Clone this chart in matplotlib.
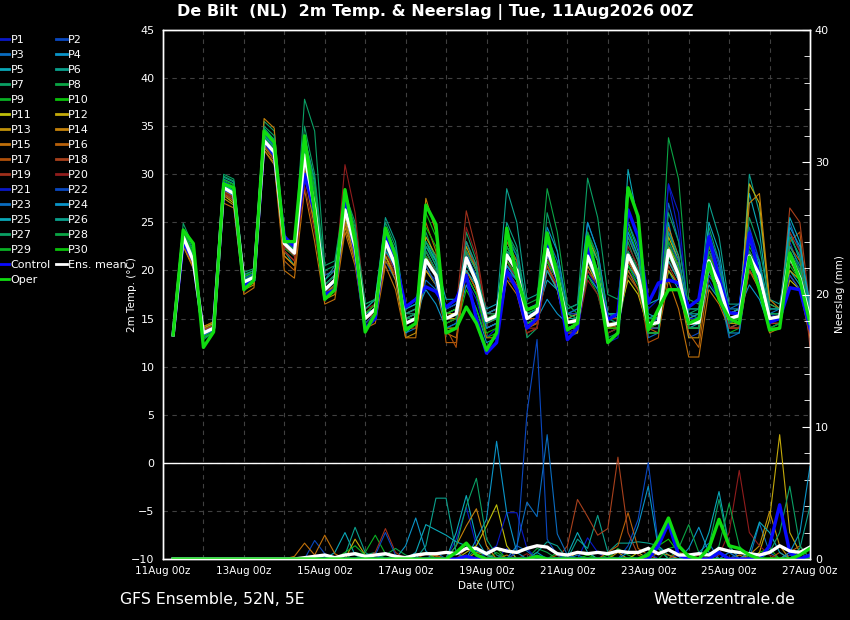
import matplotlib
matplotlib.use("Agg")
import matplotlib.pyplot as plt
from matplotlib.lines import Line2D
import numpy as np

# forecast steps: every 6 h from 11Aug 06z to 27Aug 00z
hours = np.arange(6, 385, 6)
tick_hours = np.arange(0, 385, 24)
tick_labels = ["11Aug 00z", "", "13Aug 00z", "", "15Aug 00z", "", "17Aug 00z", "",
               "19Aug 00z", "", "21Aug 00z", "", "23Aug 00z", "", "25Aug 00z", "",
               "27Aug 00z"]

member_names = ["P%d" % i for i in range(1, 31)]
member_colors = ["#0a18c8", "#0a48c0", "#0a6cc0", "#0a94c8", "#0aa8b8", "#0aa08c",
                 "#0aa064", "#0aa444", "#0ab024", "#0ac00a", "#c0c00a", "#c4aa0a",
                 "#c0920a", "#c4820a", "#c0700a", "#b8600a", "#b0500a", "#a8401c",
                 "#a0301c", "#901c1c"]

# 2m temperature per member (rows of 16 steps = 4 days)
member_temp = [
    [13.3, 23, 20.5, 13.8, 14.2, 28, 27.5, 18.5, 19, 33, 31.5, 23.5, 22, 31, 27, 17.5,
     18.5, 25.5, 22, 15, 16, 22, 20, 15.5, 16, 20, 19, 16, 16.5, 19, 17, 13,
     14, 19, 18.5, 14, 15, 24, 20, 15, 15.5, 20, 18, 14, 14.5, 24, 21, 16,
     17, 29, 24, 15, 15, 19, 17, 14, 14.5, 24, 21, 15.5, 15, 19.5, 18, 13.5],
    [13.3, 23.8, 21.5, 13.2, 13.8, 29, 28.5, 19, 19.5, 34, 33, 22, 21, 33, 28, 18.5,
     19.5, 27, 23, 14.5, 15.5, 24, 21, 14, 14.5, 22, 20, 14.5, 15, 22, 19, 15.5,
     16, 23, 21, 16, 16.5, 21, 18, 13, 13.5, 23, 20, 13.5, 14, 20, 18.5, 15,
     15, 23, 20, 13, 13.5, 24, 20.5, 15.5, 16, 22, 19, 14.5, 15, 23, 20, 16],
    [13.3, 23.2, 21, 13.6, 14, 28.3, 27.8, 18.8, 19.2, 33.8, 32.5, 23, 22.5, 32.5, 25, 17,
     18, 25, 21.5, 14, 15, 21, 19, 13.5, 14, 19, 18, 15.5, 16, 23, 20, 15,
     15.5, 20, 19, 15.5, 16, 23, 20, 14, 14.5, 25, 22, 15.5, 15.5, 22, 19, 13,
     13.5, 27, 23, 16, 16, 20, 18, 13, 13.5, 20.5, 18.5, 15.5, 16, 25, 22, 16.5],
    [13.3, 23.6, 21.2, 13.4, 14.1, 28.8, 28.2, 18.6, 19.4, 33.2, 32, 22.5, 21.5, 31.5, 26, 18.5,
     19.5, 26.5, 23.5, 15.5, 16.5, 23.5, 21.5, 15, 15.5, 18, 16.5, 14, 14.5, 18.5, 16, 12.5,
     13, 20.5, 19.5, 14.5, 15, 17, 15.5, 14.5, 15, 21, 18.5, 15, 15.5, 25, 22, 15,
     15.5, 25, 20, 14, 14, 23, 20, 16, 16, 18.5, 17, 14, 14.5, 24, 21, 15],
    [13.3, 23.4, 20.8, 13.7, 14.3, 28.5, 27.6, 18.9, 19.6, 33.6, 32.2, 23.2, 22.3, 32.8, 27.5, 18,
     19, 27.5, 23, 15, 16, 22.5, 20, 13.5, 14.5, 20.5, 18.5, 15.5, 16, 22, 20, 16,
     16.5, 22, 21, 15, 15.5, 19, 18, 14.5, 14.5, 19.5, 18, 14.5, 14, 30.5, 25, 15.5,
     15, 20, 18, 14, 14.5, 18.5, 17, 15.5, 16, 28, 24, 16, 16, 20, 18.5, 16],
    [13.3, 24, 22, 13, 13.5, 29.5, 29, 19.5, 20, 34.5, 33.5, 22, 20.5, 34, 29, 19,
     20, 27, 24, 16, 17, 24.5, 22, 15.5, 16, 22.5, 21, 16, 16.5, 20.5, 19, 15.5,
     16, 28.5, 25, 17, 17.5, 23, 20, 15, 15, 22, 20, 15.5, 15, 21, 19, 14,
     14, 24, 21, 15.5, 15, 22, 19, 14, 14.5, 30, 26, 17, 16.5, 22, 20, 15],
    [13.3, 24.9, 22.5, 12.8, 13.6, 30, 29.5, 19.8, 20.2, 35.5, 34.5, 23.8, 22, 37.8, 34.5, 20.5,
     21, 28, 25, 16.5, 17, 25, 22.5, 15.5, 15.5, 24, 21, 13.5, 14, 24, 21, 14,
     14.5, 22, 20, 13, 14, 26, 22, 15.5, 16, 24, 21, 13, 13.5, 23, 20, 14.5,
     15, 21, 19, 15.5, 16, 24.5, 21, 15, 15.5, 21, 19, 14, 14.5, 23.5, 21.5, 15],
    [13.3, 23.3, 21, 13.5, 14, 28.7, 28.3, 18.7, 19.2, 33.3, 32, 22.6, 22, 32, 26.5, 18,
     19, 26, 22.5, 15.5, 16.5, 23, 21, 14, 14.5, 21, 19.5, 14.5, 15, 21.5, 19, 15,
     15.5, 24, 21.5, 16.5, 17, 28.5, 24, 16.5, 15.5, 21, 19.5, 14.5, 14.5, 20.5, 19, 14,
     14.5, 22.5, 20, 14, 14, 21, 18.5, 14.5, 15, 23, 20.5, 15.5, 15.5, 21, 19, 14.5],
    [13.3, 23.1, 20.6, 13.9, 14.4, 28.2, 27.4, 18.4, 18.9, 33, 31.8, 22.3, 21.5, 31, 25.5, 17.5,
     18.5, 25.5, 22, 14.5, 15.5, 21.5, 19.5, 14, 14.5, 23, 20.5, 15, 15, 20, 18, 14,
     14.5, 21, 19.5, 15.5, 16, 21.5, 19, 14, 14, 19.5, 17.5, 13.5, 14, 19.5, 18, 15,
     15, 22, 20, 15, 15, 20, 18, 13.5, 14, 22, 20, 15, 15, 20.5, 19, 14.5],
    [13.3, 23.7, 21.5, 13.3, 14, 29.2, 28.6, 19.2, 19.6, 34, 33, 23, 22.5, 33.5, 27, 17.5,
     18, 26.5, 23, 14.5, 15.5, 24, 21.5, 14.5, 15, 26, 23.5, 14, 14, 18, 16, 13,
     13.5, 23, 21, 15, 15.5, 22.5, 19.5, 14.5, 14.5, 22.5, 19.5, 14, 14, 24.5, 21.5, 14.5,
     14.5, 20, 18.5, 14, 14, 20.5, 18.5, 15, 15, 22.5, 20.5, 15.5, 15.5, 22, 20, 15],
    [13.3, 22.8, 20.4, 14, 14.5, 27.8, 27, 18.2, 18.7, 32.8, 31.5, 22, 21, 30.5, 25, 17,
     18, 25, 21.5, 14.5, 15.5, 22, 20, 14.5, 15, 20, 18.5, 15.5, 15.5, 21, 19, 15.5,
     16, 19.5, 18, 14.5, 15, 22, 19.5, 14.5, 15, 20.5, 18.5, 15, 15, 19, 17.5, 14,
     14, 23.5, 21, 15, 15, 19.5, 18, 15.5, 16, 21, 19, 14.5, 14.5, 19, 18, 15.5],
    [13.3, 23.5, 21.2, 13.6, 14.1, 28.4, 27.9, 18.9, 19.3, 33.4, 32.4, 22.9, 21.8, 32.2, 28.5, 19.5,
     20, 25.5, 22, 15, 16, 21.5, 19.5, 15, 15.5, 23.5, 21.5, 15, 15, 22.5, 20, 14.5,
     15, 20.5, 19, 14.5, 15, 21, 19, 15, 15.5, 23.5, 21, 14.5, 14.5, 21, 19, 14.5,
     14.5, 22.5, 20.5, 15, 15, 22.5, 20, 14.5, 14.5, 29, 27, 16.5, 16, 20, 19, 15],
    [13.3, 22.5, 20.2, 14.2, 14.6, 27.5, 26.8, 18, 18.5, 32.5, 31, 21.5, 20.5, 30, 24.5, 17,
     17.5, 24.5, 21, 14.5, 15.5, 21.5, 19, 13, 13.5, 20, 18.5, 13.5, 14, 21.5, 19, 14,
     14.5, 21.5, 20, 14, 14.5, 20, 18, 13.5, 13.5, 21.5, 19, 14, 14.5, 22, 20, 14,
     14.5, 20, 18.5, 13, 13, 21, 19, 14.5, 15, 20, 18.5, 14, 14, 21, 19.5, 14],
    [13.3, 23, 20.8, 13.8, 14.2, 28, 27.2, 18.3, 19, 35.8, 34.8, 21.5, 20.5, 31.5, 27, 17.5,
     18.5, 27, 23.5, 15.5, 16, 24, 21.5, 14.5, 15, 27.5, 24, 14, 14, 22, 20, 15,
     15.5, 22.5, 20.5, 15, 15.5, 21, 19, 14.5, 14.5, 20, 18.5, 14, 14.5, 21.5, 19.5, 15,
     15, 24.5, 21.5, 14.5, 14.5, 20, 18, 14, 14, 27, 28, 17, 16, 22, 20, 14],
    [13.3, 22.6, 20.3, 14.1, 14.7, 27, 26.5, 17.5, 18.2, 32.5, 31.2, 20, 19.2, 28.4, 23, 16.5,
     17, 24, 20.5, 14, 14.5, 20.5, 18, 13, 13, 22, 20, 13.5, 13, 20, 18, 13,
     13, 19, 17.5, 13.5, 14, 20.5, 18, 13.5, 14, 21, 19, 14, 14, 20, 18, 13.5,
     13.5, 19, 16, 11, 11, 18, 16.5, 14, 14, 20, 18, 13.5, 14, 19.5, 18, 13],
    [13.3, 23.2, 21, 13.5, 14, 28.3, 27.6, 18.4, 19, 33, 31.5, 21, 20, 30, 25.5, 18,
     19, 25, 21, 14, 15, 21, 19.5, 14.5, 15, 25, 22, 12.5, 12.5, 20, 18, 14.5,
     15, 23, 21, 15, 15, 21.5, 19, 14, 14.5, 21.5, 19.5, 15.5, 15.5, 23.5, 21, 14,
     13.5, 21, 19, 13.5, 12, 19.5, 18, 14.5, 15.5, 21, 19.5, 15, 15, 22.5, 21, 15.5],
    [13.3, 23.6, 21.3, 13.4, 13.9, 28.6, 28, 18.7, 19.2, 33.4, 32, 23, 22, 32.5, 27.5, 18.5,
     19.5, 26, 22.5, 15.5, 16.5, 22, 20, 14, 14, 21.5, 20, 14, 12, 22, 20.5, 15,
     15.5, 20, 18.5, 14, 14.5, 20.5, 18.5, 14.5, 15, 22, 19.5, 14.5, 14, 21, 19, 12.5,
     13, 21.5, 19.5, 15, 15.5, 21.5, 19, 15.5, 15.5, 22, 20, 14.5, 15, 23, 24, 14],
    [13.3, 22.8, 20.6, 13.9, 14.3, 27.8, 27.3, 18.2, 18.8, 34.5, 33, 22, 21, 29.5, 26, 17,
     18.5, 28.5, 24, 15, 15.5, 23.5, 21.5, 15.5, 16, 21, 19.5, 15, 15.5, 23, 20.5, 14,
     14.5, 21, 19.5, 14.5, 14.5, 22.5, 19.5, 14, 14, 21, 19, 15, 15, 19.5, 18, 14,
     14, 22, 20, 14.5, 14.5, 20.5, 18.5, 14, 14.5, 20, 18.5, 15, 15, 26.5, 25, 16],
    [13.3, 23.4, 21, 13.6, 14, 28, 27.5, 18.5, 19, 33, 31.5, 22.5, 21.5, 30.5, 25.5, 17.5,
     19, 27.5, 23.5, 15.5, 16.5, 22.5, 20.5, 14.5, 15, 22, 20, 15.5, 16, 26.2, 22, 15.5,
     15.5, 21, 19, 14, 14, 21, 19.5, 15.5, 15.5, 20, 18.5, 14.5, 14.5, 22, 20, 15,
     15, 20.5, 18.5, 14, 14, 22, 19.5, 15, 15, 20.5, 19, 14.5, 14.5, 24, 22, 12],
    [13.3, 23, 20.8, 13.7, 14.2, 28.1, 27.6, 18.6, 19.1, 33.2, 32, 22, 21, 28.8, 24, 17.5,
     19, 31, 26, 16, 16.5, 22, 19.5, 14.5, 15, 20.5, 18.5, 14.5, 15, 24.5, 21.5, 15,
     15, 19.5, 18, 13.5, 14, 20, 18.5, 14, 14, 19, 17.5, 13.5, 14, 22.5, 20.5, 14.5,
     14.5, 21, 19.5, 14.5, 14.5, 20, 18, 14, 14, 21.5, 20, 15, 15, 21, 19, 14],
    [13.3, 23.2, 21.2, 13.6, 14.1, 28.6, 28, 19, 19.4, 33.7, 32.5, 23.2, 22.2, 33, 28, 18.5,
     19.5, 26, 22, 14.5, 15.5, 22.5, 20, 15, 15, 21, 19.5, 15, 15.5, 21, 19, 14,
     14.5, 21.5, 20, 15, 15.5, 22, 19, 13.5, 14, 21.5, 18.5, 12.5, 13, 22, 20, 14.5,
     14.5, 29, 26, 15, 15, 21.5, 19, 15, 15, 21, 19, 14, 14.5, 22, 20, 16],
    [13.3, 23.9, 21.6, 13.3, 13.7, 29.3, 28.7, 19.1, 19.7, 34.2, 33, 23.5, 22.5, 33.5, 28.5, 19.5,
     20, 26.5, 23, 15.5, 16, 23.5, 21, 15, 15.5, 22, 20, 16, 16.5, 21, 19.5, 15,
     15.5, 20.5, 19, 15, 16, 21.5, 19.5, 15.5, 15.5, 22.5, 20, 15, 14.5, 21.5, 19.5, 14,
     14, 23, 21, 15.5, 15, 19.5, 18, 14.5, 15.5, 24.5, 21, 14.5, 15, 19.5, 18, 15.5],
    [13.3, 23.3, 21, 13.5, 14, 28.4, 28, 18.8, 19.3, 33.5, 32.2, 22.8, 21.8, 31.8, 26, 17.8,
     18.8, 26, 22.5, 15, 16, 24.5, 22, 16, 16.5, 20.5, 18.5, 14, 14.5, 21.5, 19.5, 15.5,
     16, 23.5, 21.5, 15.5, 15.5, 23.5, 21, 15.5, 16, 22, 20, 15, 15.5, 20.5, 19, 14.5,
     15, 21.5, 19.5, 14.5, 14.5, 23.5, 21, 16, 16.5, 21.5, 19.5, 15.5, 15.5, 21.5, 20, 15.5],
    [13.3, 23.5, 21.1, 13.5, 14, 28.5, 27.9, 18.8, 19.3, 33.6, 32.3, 22.7, 21.7, 32, 26.5, 18,
     19, 26.5, 22.5, 15, 16, 23, 20.5, 14.5, 15, 21, 19.5, 15, 15.5, 19.5, 17.5, 14,
     14.5, 20.5, 19, 14.5, 15, 24.5, 22, 16, 16.5, 25, 22, 15.5, 15.5, 21.5, 19.5, 13.5,
     13.5, 22, 20, 14, 14, 20, 18, 13.5, 13.5, 23.5, 20.5, 15, 15, 24.5, 22.5, 16.5],
    [13.3, 23.6, 21.4, 13.4, 14, 28.9, 28.3, 18.9, 19.4, 34, 32.8, 23, 22, 32.5, 27, 18.5,
     19.5, 27, 23, 15.5, 16, 22, 20.5, 16, 16.5, 23, 21, 17, 17, 20, 18.5, 15,
     15, 22.5, 20.5, 14.5, 15, 20, 18, 14, 14.5, 21.5, 19.5, 15.5, 15.5, 24, 21.5, 16.5,
     17, 21, 19, 15, 15.5, 25, 22, 15.5, 16, 20.5, 19, 15, 15, 25.5, 23, 15.5],
    [13.3, 23.8, 21.7, 13.2, 13.8, 29.7, 29.2, 19.3, 19.8, 34.8, 33.6, 23.3, 22.5, 33.8, 29.5, 19,
     20.5, 27.5, 24, 16, 17, 25.5, 23, 15.5, 16, 22.5, 20.5, 15.5, 16, 23, 20.5, 14.5,
     15, 25, 22.5, 16, 16.5, 22.5, 20, 15.5, 15, 23, 21, 15.5, 15.5, 23.5, 21, 15,
     15.5, 24, 21.5, 15.5, 15.5, 27, 23.5, 16.5, 16.5, 23, 21, 16, 16, 22.5, 20.5, 15],
    [13.3, 24.3, 22.2, 13, 13.5, 29.8, 29.3, 19.6, 20, 35, 34, 23.5, 22.5, 35, 30, 20,
     20.5, 28, 24.5, 16.5, 17, 24, 21.5, 15, 15.5, 23, 21.5, 15, 15.5, 22, 20, 15.5,
     15.5, 24, 22, 15.5, 16, 22, 20, 16, 16.5, 29.6, 25.5, 17.5, 17, 25, 22.5, 15,
     15, 26, 23, 16, 16, 22, 20, 15.5, 15.5, 25.5, 22.5, 16.5, 16, 23.5, 21.5, 15.5],
    [13.3, 23.6, 21.3, 13.4, 14, 29.1, 28.6, 19, 19.5, 33.9, 32.7, 23, 22.2, 33, 28, 18.5,
     19.5, 26.5, 23, 15, 16, 23.5, 21, 15, 15, 22, 20, 15, 15.5, 21, 19, 15,
     15.5, 22.5, 20.5, 15, 15.5, 23, 20.5, 15.5, 15, 24, 21.5, 15, 14.5, 22, 20, 14.5,
     14.5, 33.8, 29.5, 17, 16.5, 22.5, 20, 15, 15, 22, 20, 15.5, 15.5, 21, 19.5, 14.5],
    [13.3, 23.4, 21, 13.6, 14.1, 28.6, 28.1, 18.8, 19.3, 33.4, 32.2, 22.8, 21.8, 32, 26.5, 18,
     19, 26, 22.5, 15, 16, 22.5, 20.5, 14.5, 15, 21.5, 19.5, 14.5, 15, 21, 19, 15,
     15.5, 21, 19.5, 14.5, 15, 22, 19.5, 14.5, 14.5, 21, 19, 14.5, 14.5, 21.5, 19.5, 14,
     14.5, 23, 20.5, 14, 14, 21, 19, 14.5, 15, 21.5, 19.5, 15, 15, 22, 20, 15],
    [13.3, 23.9, 21.8, 13.1, 13.6, 29.4, 28.9, 19.4, 19.8, 34.3, 33.3, 23.4, 22.3, 34, 28.5, 18,
     19, 27.5, 23.5, 15.5, 16.5, 23, 21, 14.5, 15, 24.5, 22.5, 15.5, 16, 19.5, 17.5, 13.5,
     14, 21.5, 20, 15, 15.5, 21, 19, 14, 14, 22.5, 20, 14, 14, 20.5, 18.5, 13.5,
     13.5, 21.5, 19.5, 14.5, 14.5, 21.5, 19.5, 15, 15, 20.5, 18.5, 14, 14.5, 21.5, 19.5, 14.5],
]

control_temp = [13.3, 23, 21, 13.5, 14, 28.5, 28, 18.5, 19, 33.5, 32, 23.5, 22.5, 30, 26, 17.5,
                18, 27, 22, 14, 15, 23.5, 21, 16.2, 17, 18.3, 17.8, 16.2, 17, 19.5, 15, 11.4,
                12.5, 20, 18, 14, 15, 22.5, 19, 12.8, 14, 22.5, 18.7, 14.9, 15.5, 26.3, 23.5, 16.6,
                18.7, 19, 18.7, 16.2, 17, 23.5, 19.3, 15.6, 15.5, 23.9, 19.3, 14.6, 15, 18.2, 18, 14]
oper_temp = [13.3, 24.2, 22.8, 12, 13.6, 29, 28.6, 18, 19, 34.5, 33.3, 23, 23, 34, 26, 17,
             18, 28.4, 23, 13.6, 15.5, 24.4, 21.5, 13.8, 14.5, 26.8, 24.8, 13.5, 14, 16.2, 14.5, 11.7,
             13.5, 24.4, 19.3, 15.9, 16.3, 23.9, 19.5, 13.8, 14.5, 23.5, 19.3, 12.5, 13.5, 28.6, 25.6, 13.8,
             16, 18, 18, 14.5, 15, 20.8, 17, 15, 14.5, 21.4, 18, 13.8, 14, 21.8, 19, 14.5]
mean_temp = [13.3, 23.5, 21, 13.5, 14, 28.6, 28, 18.8, 19.3, 33.5, 32.3, 22.8, 21.8, 32, 26.5, 18,
             19, 26.3, 22.5, 15, 16, 23, 20.5, 14.5, 15, 21.1, 19.5, 15, 15.5, 21.3, 18.8, 14.8,
             15.3, 21.6, 20, 15, 15.7, 22.2, 19.3, 14.6, 14.8, 21.5, 19, 14.3, 14.5, 21.6, 19.5, 14.4,
             14.6, 22.1, 19.5, 14.5, 14.6, 21, 18.6, 15, 15.3, 21.5, 19.5, 15, 15.2, 21.6, 19.2, 15]

# 6-hourly precipitation (mm) per member
member_precip = [
    [0, 0, 0, 0, 0, 0, 0, 0, 0, 0, 0, 0, 0, 0, .3, .2, 0, 0, 0, 0, 0, .5, 0, 0, 0, 0, 0, 0, 1.5, 3.9, 1, 0,
     0, .8, 0, 0, 0, 0, 0, 0, 0, 1.6, .5, 0, 0, 0, 0, 0, 0, 0, .3, 0, 0, 0, 0, 0, 0, .5, 0, 0, 0, 0, 0, 0],
    [0, 0, 0, 0, 0, 0, 0, 0, 0, 0, 0, 0, 0, 0, 1.4, .4, 0, 0, 0, 0, 0, 0, .3, 0, 0, 0, 0, 0, 0, 0, 0, 0,
     0, 0, 0, 0, 0, 0, 0, 0, 0, 0, 0, 0, 0, 1, 3, 7.3, 1, 0, 0, 0, 0, 0, 0, .5, 0, 0, 0, 0, 0, .3, 0, 0],
    [0, 0, 0, 0, 0, 0, 0, 0, 0, 0, 0, 0, 0, 0, 0, 0, 0, 0, 0, 0, .3, 0, 0, 0, 0, 0, .5, 0, 0, 0, 0, 0,
     0, 0, 1, .6, 0, 0, 0, 0, .3, 0, 0, 0, 0, 0, 0, 0, 0, 0, 0, 0, .5, 1.2, 0, 0, 0, 0, 2.7, .5, 0, 0, 0, 0],
    [0, 0, 0, 0, 0, 0, 0, 0, 0, 0, 0, 0, 0, 0, 0, 0, 0, 0, 0, 0, 0, 0, 0, 1, 3.1, .6, 0, 0, 0, 0, 0, 0,
     0, 0, 0, 0, .5, 0, 0, 0, 0, 0, 0, 0, 0, 0, 0, 0, 0, 0, 0, .8, 2.4, .5, 0, 0, 0, 0, 0, 0, 0, 0, 0, 0],
    [0, 0, 0, 0, 0, 0, 0, 0, 0, 0, 0, 0, 0, 0, 0, 0, .5, 2, .3, 0, 0, 0, 0, 0, 0, 0, 0, 0, 2, 4.8, 1.5, .3,
     0, 0, 0, 0, 0, 0, 0, 0, 0, 0, 0, 0, 0, 0, 0, 0, 0, 0, 0, 0, 0, 2, 5.1, 1, 0, 0, 0, 0, 0, 0, 0, 0],
    [0, 0, 0, 0, 0, 0, 0, 0, 0, 0, 0, 0, 0, 0, 0, 0, 0, .3, 2.4, .5, 0, 0, 0, 0, 0, 0, 0, 0, 0, 0, 0, 0,
     0, 0, 0, 0, 0, 0, 0, 0, 1.5, .8, 3.3, .5, 1.2, 1.2, 1.3, 1.2, 1, .3, 0, 0, 0, 0, 0, 0, 0, 0, 0, 0, 0, 0, 0, 0],
    [0, 0, 0, 0, 0, 0, 0, 0, 0, 0, 0, 0, 0, 0, 0, 0, 0, 0, 0, .3, .5, 0, 0, 0, 0, 0, 0, 0, 0, 0, .8, .5,
     0, 0, 0, 0, 0, 0, 0, 0, 0, 0, 0, 0, 0, 0, 0, 0, 0, 0, 0, 0, 0, 1, 4.5, 1, 0, 0, 0, 0, 0, 0, 0, 0],
    [0, 0, 0, 0, 0, 0, 0, 0, 0, 0, 0, 0, 0, 0, 0, 0, 0, 0, .5, .3, 0, 0, 0, 0, 0, 0, 0, 0, 0, 0, 0, 0,
     0, 0, 0, 0, .8, .5, 0, 0, 0, 0, 0, 0, 0, 0, 0, 0, 0, 0, .8, 2.6, .5, 0, 0, 0, 0, 0, 0, 0, 0, 0, 0, 0],
    [0, 0, 0, 0, 0, 0, 0, 0, 0, 0, 0, 0, 0, 0, 0, 0, 0, 0, 0, .5, 1.8, .4, 0, 0, 0, 0, 0, 0, 0, 0, 0, 0,
     .5, 0, 0, 0, 0, 0, 0, 0, 0, 0, 0, 0, .8, .3, 0, 0, 0, 0, 0, 0, 0, 0, 0, 0, 0, 0, 0, 0, 0, 0, 0, 0],
    [0, 0, 0, 0, 0, 0, 0, 0, 0, 0, 0, 0, 0, 0, 0, 0, 0, 0, 0, 0, 0, 0, .3, 0, 0, 0, 0, 0, 0, 0, 0, .5,
     .8, 0, 0, 0, 0, 0, 0, 0, 0, 0, 0, .3, 0, 0, 0, 0, 0, 0, 0, 0, 0, 0, 0, 0, 0, 0, .5, .8, 0, 0, 0, 0],
    [0, 0, 0, 0, 0, 0, 0, 0, 0, 0, 0, 0, 0, 0, 0, 0, 0, 0, 0, 0, 0, 0, 0, 0, 0, 0, 0, 0, 0, .5, 1, 2.5,
     4.1, 1, 0, 0, 0, 0, 0, 0, 0, 0, 0, 0, 0, 0, .5, 0, 0, 0, 0, 0, 0, 0, 0, 0, 0, .5, 0, 0, 0, 0, 0, 0],
    [0, 0, 0, 0, 0, 0, 0, 0, 0, 0, 0, 0, 0, 0, 0, 0, 0, 0, 1.5, .3, 0, 0, 0, 0, 0, 0, 0, 0, 0, 0, 0, 0,
     0, 0, 0, 0, 0, 0, 0, 0, .5, .5, 0, 0, 0, 0, 0, 0, 0, 0, 0, 0, 0, 0, 0, 0, 0, 0, .5, 3, 9.4, 2, .5, 0],
    [0, 0, 0, 0, 0, 0, 0, 0, 0, 0, 0, 0, 0, 0, 0, 0, 0, 0, 0, 0, 0, 0, 0, 0, 0, 0, 0, 0, 0, 0, .5, .3,
     0, 0, 0, 0, 0, 0, 0, 0, 0, 0, 0, 0, .5, 0, 0, 0, 0, 0, 0, 0, 0, 0, 0, 0, 0, .3, 1, 3.6, 1, 0, 0, 0],
    [0, 0, 0, 0, 0, 0, 0, 0, 0, 0, 0, 0, 0, 0, 0, 0, 0, 0, 0, 0, 0, 0, 0, 0, 0, 0, 0, 0, 1, 2.5, 3.8, 1,
     0, 0, 0, 0, 0, 0, 0, 0, 0, 0, 0, 0, 0, 0, 0, 0, .5, .3, 0, 0, 0, 0, 0, 0, 0, 0, 0, 0, 0, 0, 0, 0],
    [0, 0, 0, 0, 0, 0, 0, 0, 0, 0, 0, 0, .2, 1.2, .3, 1.8, .4, 0, 0, 0, 0, 0, 0, 0, 0, 0, 0, 0, 0, 0, 0, 0,
     0, .3, 0, 0, 0, 0, 0, 0, 0, 0, 0, 0, 0, 0, 0, 0, 0, 0, 0, 0, 0, 0, 0, 0, .3, 0, 0, 0, 0, 0, 0, 0],
    [0, 0, 0, 0, 0, 0, 0, 0, 0, 0, 0, 0, 0, 0, 0, 0, 0, 0, 0, 0, 0, 0, 0, 0, 0, 0, .3, 0, 0, 0, 0, 0,
     0, 0, 0, 0, 0, 0, 0, 0, 0, 0, 0, .5, 1, 3.5, .8, .3, 0, 0, 0, 0, 0, 0, 0, 0, 0, 0, 0, 0, 0, .5, 1, 0],
    [0, 0, 0, 0, 0, 0, 0, 0, 0, 0, 0, 0, 0, 0, 0, 0, 0, 0, 0, 0, 0, 0, 0, 0, 0, .4, .2, 0, 0, 0, 0, 0,
     0, 0, 0, 0, 0, 0, .3, 0, 0, 0, 0, 0, 0, 0, 0, 0, 0, 0, .5, .3, 0, 0, 0, 0, 0, 0, 0, 0, .5, 0, 0, 0],
    [0, 0, 0, 0, 0, 0, 0, 0, 0, 0, 0, 0, 0, 0, 0, 0, 0, 0, 0, 0, 0, 0, 0, 0, 0, 0, 0, 0, 0, .8, .4, 0,
     0, 0, 0, 0, 0, 0, 0, 1, 4.5, 3.2, 1.8, 2.3, 7.7, 2, .3, 0, 0, 0, 0, 0, 0, 0, 0, 0, 0, 0, 0, 0, 0, .5, 0, 0],
    [0, 0, 0, 0, 0, 0, 0, 0, 0, 0, 0, 0, 0, 0, 0, 0, 0, 0, 0, 0, .5, 2.3, .5, 0, 0, 0, 0, 0, 0, .3, 0, 0,
     0, 0, 0, 0, 0, 0, 0, 0, 0, 0, 0, 0, 0, 0, 0, 0, 0, 0, 0, 0, .3, 0, 0, 0, 0, 0, 0, 0, 0, 0, 0, 0],
    [0, 0, 0, 0, 0, 0, 0, 0, 0, 0, 0, 0, 0, 0, 0, 0, 0, 0, 0, 0, 0, 0, 0, 0, 0, 0, 0, 0, 0, 0, 0, 0,
     0, 0, 0, .4, 0, 0, 0, 0, 0, 0, 0, 0, 0, 0, 0, 0, 0, 0, 0, 0, 0, 0, .3, 2, 6.7, 2, 1, .3, 0, 0, 0, 0],
    [0, 0, 0, 0, 0, 0, 0, 0, 0, 0, 0, 0, 0, 0, 0, 0, 0, 0, 0, 0, 0, 0, 0, 0, 0, 0, 0, 0, 0, 0, 0, .5,
     1, 3.5, 3.5, .8, 0, 0, 0, 0, 0, 0, 0, 0, 0, 0, 0, .5, 0, 0, 0, 0, 0, 0, 0, 0, 0, 0, 0, 0, 0, 0, .5, 0],
    [0, 0, 0, 0, 0, 0, 0, 0, 0, 0, 0, 0, 0, 0, 0, 0, 0, 0, 0, 0, .3, 2, .3, 0, 0, 0, 0, 0, 0, 0, 0, 0,
     0, 0, .5, 11, 16.6, 1.5, .3, 0, 0, 0, 0, 0, 0, 0, 0, 0, 0, 0, 0, 0, 0, 0, 0, 0, .5, .3, 0, 0, 0, 0, 0, 0],
    [0, 0, 0, 0, 0, 0, 0, 0, 0, 0, 0, 0, 0, 0, 0, 0, 0, 0, 0, 0, 0, 0, 0, 0, 0, 0, 0, 0, 0, 0, 0, 0,
     0, 0, 1, 4.3, 3.2, 9.4, 1.9, .3, 0, 0, 0, 0, 0, 0, 0, 0, 0, 0, 0, 0, 0, 0, 0, .5, 0, 0, 0, 0, 0, 0, 0, 0],
    [0, 0, 0, 0, 0, 0, 0, 0, 0, 0, 0, 0, 0, 0, 0, 0, 0, 0, 0, 0, 0, 0, 0, 0, 0, 0, 0, 0, 0, 0, 1.5, 3,
     8.9, 3.5, .5, 0, 0, 0, 0, 0, 0, 0, 0, 0, 0, .5, 2.5, 5.5, .8, 0, 0, 0, 0, 0, 0, 0, 0, 0, 0, 0, 0, .5, 2, 7],
    [0, 0, 0, 0, 0, 0, 0, 0, 0, 0, 0, 0, 0, 0, 0, 0, 0, 0, 0, 0, 0, 0, 0, 0, .5, 2.6, 2.2, 1.8, 1.3, 1, .6, .3,
     0, 0, 0, 0, 0, 0, 0, .3, 2, .5, 0, 0, 0, 0, 0, 0, 0, 0, 0, 0, 0, 0, 0, 0, 0, .5, 2.8, 2, .5, 0, 0, 0],
    [0, 0, 0, 0, 0, 0, 0, 0, 0, 0, 0, 0, 0, 0, 0, 0, 0, 0, 0, 0, 0, 0, 0, 0, 0, 1, 4.6, 4.6, .5, 0, 0, 0,
     0, 0, 0, 0, .5, 1.3, 1, 0, 0, 0, 0, 0, 0, 0, 0, 0, 0, 0, 0, 0, 0, 0, 0, 0, 0, 0, 0, 0, 0, 0, .8, 4],
    [0, 0, 0, 0, 0, 0, 0, 0, 0, 0, 0, 0, 0, 0, 0, 0, 0, 0, 0, 0, 0, 0, 0, 0, 0, 0, 0, 0, 1, 4, 6.1, 1.5,
     .3, 0, 0, 0, 0, 0, 0, 0, 0, 0, 0, 0, 0, 0, 0, 0, 0, 0, 0, 0, 0, 0, 0, 0, 0, 0, 0, .5, 2, 5.5, 1, 0],
    [0, 0, 0, 0, 0, 0, 0, 0, 0, 0, 0, 0, 0, 0, 0, 0, 0, 0, 0, 0, 0, .3, .8, .3, 0, 0, 0, 0, 0, 0, 0, 0,
     0, 0, 0, 0, 0, 0, 0, 0, 0, 0, 0, 0, 0, 0, 0, .5, .8, 0, 0, 0, 0, 0, 1, 4.2, 1, 0, 0, 0, 0, 0, 0, 0],
    [0, 0, 0, 0, 0, 0, 0, 0, 0, 0, 0, 0, 0, 0, 0, 0, 0, .5, 1, .3, 0, 0, 0, 0, 0, 0, 0, 0, 0, 0, 0, 0,
     0, 0, 0, 0, 0, 0, .5, 0, 0, 0, 0, 0, 0, 0, 0, 0, 0, .8, 1, 0, 0, 0, 0, 0, 0, 0, 0, 0, 0, 0, 0, 0],
    [0, 0, 0, 0, 0, 0, 0, 0, 0, 0, 0, 0, 0, 0, 0, 0, 0, 0, 0, 0, 0, 0, 0, 0, .3, .5, 0, 0, 0, 0, 0, 0,
     0, 0, 0, 0, 0, 0, 0, 0, 0, .3, 0, 0, 0, 0, 0, 0, 1, 1.5, .5, 0, 0, 0, 0, 0, 0, 0, 0, 0, 0, 0, 0, 0],
]
control_precip = [0, 0, 0, 0, 0, 0, 0, 0, 0, 0, 0, 0, 0, 0, 0, 0, 0, 0, 0, 0, 0, 0, 0, 0, 0, 0, 0, 0, 0, .2, 0, 0,
                  0, 0, 0, 0, .2, 0, 0, 0, 0, 0, 0, 0, 0, 0, 0, 0, 1, 2.7, .3, 0, 0, 0, .5, 0, 0, 0, 0, 1, 4.1, .5, 0, .3]
oper_precip = [0, 0, 0, 0, 0, 0, 0, 0, 0, 0, 0, 0, 0, 0, 0, 0, 0, 0, 0, 0, 0, 0, 0, 0, 0, 0, 0, 0, .5, 1.2, .3, 0,
               0, 0, 0, 0, .2, 0, 0, 0, 0, 0, 0, 0, 0, 0, 0, .3, 1.5, 3.1, 1, .2, 0, .8, 3, 1, .8, .3, 0, 0, 0, 0, .3, .8]
mean_precip = [0, 0, 0, 0, 0, 0, 0, 0, 0, 0, 0, 0, 0, .1, .2, .3, .1, .3, .4, .2, .3, .4, .2, .1, .3, .4, .4, .5, .4, .8, .8, .4,
               .8, .6, .5, .8, 1, .9, .4, .3, .5, .4, .5, .4, .6, .5, .5, .8, .4, .7, .3, .3, .4, .3, .8, .6, .5, .4, .3, .5, 1, .6, .5, .9]

control_color = "#0a0aff"
oper_color = "#10dc10"

fig = plt.figure(figsize=(8.5, 6.2), dpi=100, facecolor="black")
ax = fig.add_axes([163 / 850, 1 - 559 / 620, 647 / 850, 529 / 620])
ax.set_facecolor("black")
ax2 = ax.twinx()

for i in range(30):
    c = member_colors[i % 20]
    ax.plot(hours, member_temp[i], color=c, lw=0.8)
    ax2.plot(hours, member_precip[i], color=c, lw=0.8)

ax.plot(hours, control_temp, color=control_color, lw=2.4)
ax.plot(hours, mean_temp, color="white", lw=2.4)
ax.plot(hours, oper_temp, color=oper_color, lw=2.4)
ax2.plot(hours, control_precip, color=control_color, lw=2.4)
ax2.plot(hours, mean_precip, color="white", lw=2.4)
ax2.plot(hours, oper_precip, color=oper_color, lw=2.4)

ax.axhline(0, color="white", lw=1)

ax.set_xlim(0, 384)
ax.set_ylim(-10, 45)
ax2.set_ylim(0, 40)
ax.set_xticks(tick_hours)
ax.set_xticklabels(tick_labels)
ax.set_yticks(np.arange(-10, 46, 5))
ax2.set_yticks(np.arange(0, 41, 10))
ax2.set_yticks(np.arange(0, 41, 2), minor=True)

ax.grid(True, color="#404040", ls=(0, (4, 4)), lw=0.8)
ax.set_axisbelow(True)

ax.tick_params(axis="x", colors="white", labelsize=7.5, length=0, pad=5)
ax.tick_params(axis="y", colors="white", labelsize=8, length=0, pad=6)
ax2.tick_params(axis="y", which="both", colors="white", labelsize=8, direction="in")
ax2.tick_params(axis="y", which="major", length=6)
ax2.tick_params(axis="y", which="minor", length=4)
for a in (ax, ax2):
    for s in a.spines.values():
        s.set_color("white")
        s.set_linewidth(1)

ax.set_xlabel("Date (UTC)", color="white", fontsize=7.5, labelpad=3)
ax.set_ylabel("2m Temp. (°C)", color="white", fontsize=7.5, labelpad=-4)
ax2.set_ylabel("Neerslag (mm)", color="white", fontsize=7.5, labelpad=4)

# legend: row-wise P1 P2 / P3 P4 ... / Control Ens. mean / Oper
handles, labels = [], []
left_col = list(range(0, 30, 2))
right_col = list(range(1, 30, 2))
for i in left_col:
    handles.append(Line2D([], [], color=member_colors[i % 20], lw=2))
    labels.append(member_names[i])
handles.append(Line2D([], [], color=control_color, lw=2))
labels.append("Control")
handles.append(Line2D([], [], color=oper_color, lw=2))
labels.append("Oper")
for i in right_col:
    handles.append(Line2D([], [], color=member_colors[i % 20], lw=2))
    labels.append(member_names[i])
handles.append(Line2D([], [], color="white", lw=2))
labels.append("Ens. mean")
leg = fig.legend(handles, labels, loc="upper left", bbox_to_anchor=(-0.002, 1 - 35 / 620),
                 ncol=2, frameon=False, fontsize=8, handlelength=1.0, handletextpad=0.1,
                 columnspacing=0.45, labelspacing=0.45, borderpad=0, borderaxespad=0)
for t in leg.get_texts():
    t.set_color("white")

fig.text(435 / 850, 1 - 12 / 620, "De Bilt  (NL)  2m Temp. & Neerslag | Tue, 11Aug2026 00Z",
         ha="center", va="center", color="white", fontsize=11.5, fontweight="bold")
fig.text(120 / 850, 1 - 599 / 620, "GFS Ensemble, 52N, 5E", ha="left", va="center",
         color="white", fontsize=11.3)
fig.text(795 / 850, 1 - 599 / 620, "Wetterzentrale.de", ha="right", va="center",
         color="white", fontsize=11.3)

fig.savefig("out.png", dpi=100, facecolor="black")
